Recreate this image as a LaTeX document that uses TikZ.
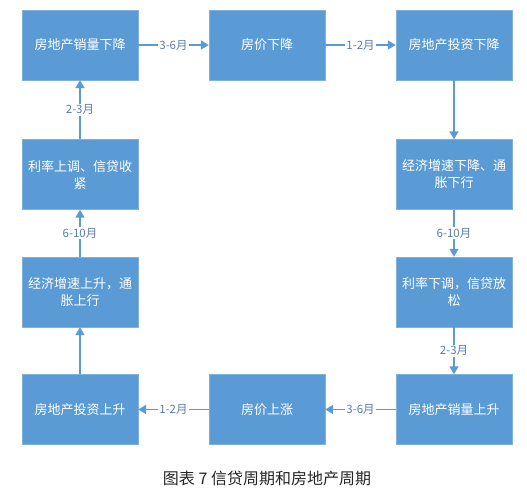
\documentclass[tikz,border=0pt]{standalone}
\usepackage{fontspec}
\setmainfont{Noto Sans CJK SC}
\usepackage{xcolor}
\usepackage{tikz}
\usetikzlibrary{arrows.meta}
\definecolor{boxblue}{HTML}{5B9BD5}
\definecolor{boxedge}{HTML}{7FB0DE}
\definecolor{labelblue}{HTML}{5A7EAA}
\tikzset{
  stage/.style={draw=boxedge, fill=boxblue, text=white, align=center, minimum width=116pt, minimum height=70pt, inner sep=2pt, font=\fontsize{13}{17}\selectfont},
  arrow/.style={-{Triangle[length=8pt, width=9pt]}, line width=1.6pt, boxblue},
  lag/.style={fill=white, text=labelblue, inner sep=1pt, font=\fontsize{11.5}{13}\selectfont},
  caption/.style={text=black!85, font=\fontsize{16}{18}\selectfont}
}
\begin{document}
\begin{tikzpicture}[x=1pt,y=-1pt]
    \useasboundingbox[fill=white] (0,0) rectangle (527,490);
    % top row
    \node[stage] (salesdown) at (80,45) {房地产销量下降};
    \node[stage] (pricedown) at (267,45) {房价下降};
    \node[stage] (investdown) at (454,45) {房地产投资下降};
    % middle rows
    \node[stage] (tighten) at (80,174.5) {利率上调、信贷收\\紧};
    \node[stage] (econdown) at (454,174.5) {经济增速下降、通\\胀下行};
    \node[stage] (econup) at (80,292) {经济增速上升，通\\胀上行};
    \node[stage] (loosen) at (454,292) {利率下调，信贷放\\松};
    % bottom row
    \node[stage] (investup) at (80,409.5) {房地产投资上升};
    \node[stage] (priceup) at (267,409.5) {房价上涨};
    \node[stage] (salesup) at (454,409.5) {房地产销量上升};
    % cycle
    \draw[arrow] (salesdown) -- node[lag] {3-6月} (pricedown);
    \draw[arrow] (pricedown) -- node[lag] {1-2月} (investdown);
    \draw[arrow] (investdown) -- (econdown);
    \draw[arrow] (econdown) -- node[lag] {6-10月} (loosen);
    \draw[arrow] (loosen) -- node[lag] {2-3月} (salesup);
    \draw[arrow] (salesup) -- node[lag] {3-6月} (priceup);
    \draw[arrow] (priceup) -- node[lag] {1-2月} (investup);
    \draw[arrow] (investup) -- (econup);
    \draw[arrow] (econup) -- node[lag] {6-10月} (tighten);
    \draw[arrow] (tighten) -- node[lag] {2-3月} (salesdown);
    \node[caption] (title) at (267,478) {图表 7 信贷周期和房地产周期};
\end{tikzpicture}
\end{document}
